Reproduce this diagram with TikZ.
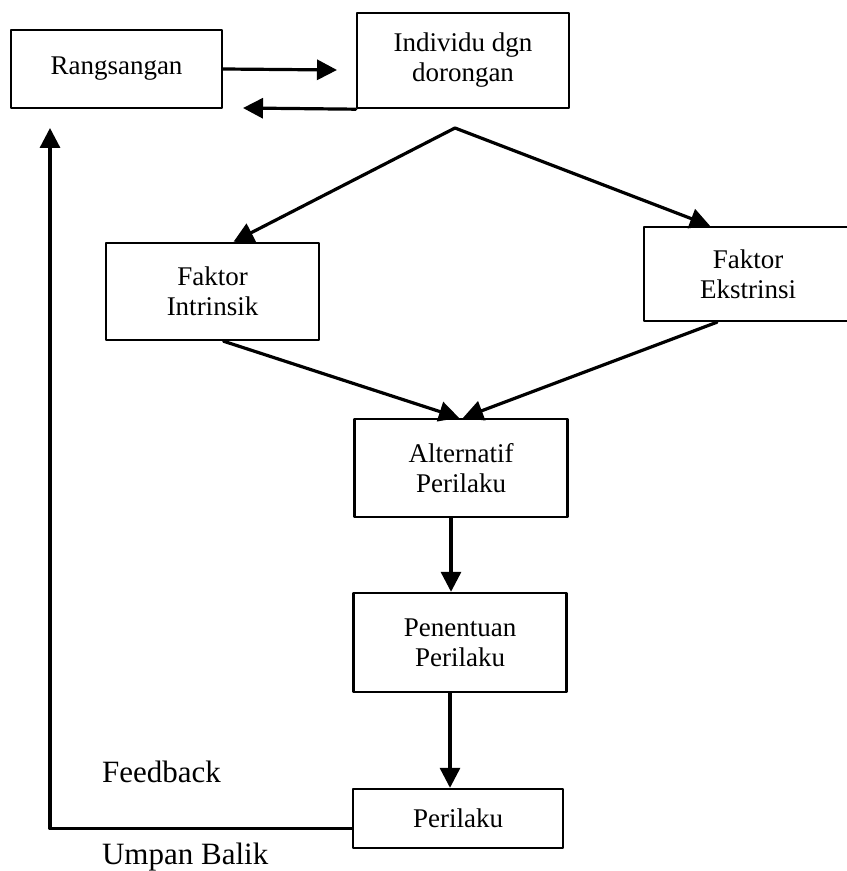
\documentclass[tikz,border=0pt]{standalone}
\usepackage{fontspec}
\setmainfont{Liberation Serif}
\usetikzlibrary{arrows.meta}
\begin{document}
\begin{tikzpicture}[x=0.5pt, y=-0.5pt, line cap=round, line join=round,
  box/.style={draw, line width=1.2pt, align=center, inner sep=0pt,
    font=\fontsize{13.5}{15}\selectfont},
  arr/.style={line width=1.6pt, -{Triangle[length=10pt,width=10pt]}},
  lbl/.style={anchor=west, font=\fontsize{15.5}{18}\selectfont}]
  \useasboundingbox (0,0) rectangle (846,871);
  \coordinate (top) at (455,128);
  \coordinate (ra) at (337,70);
  \coordinate (rb) at (243,108);
  \coordinate (fb) at (50,128);
  \node[box, minimum width=105.5pt, minimum height=39pt] (R) at (116.5,69) {Rangsangan};
  \node[box, minimum width=106pt, minimum height=47.5pt] (I) at (463,60.5) {Individu dgn\\dorongan};
  \node[box, minimum width=106.5pt, minimum height=48.5pt] (FI) at (212.5,291.5) {Faktor\\Intrinsik};
  \node[box, minimum width=104pt, minimum height=47pt] (FE) at (748,274) {Faktor\\Ekstrinsi};
  \node[box, minimum width=106.5pt, minimum height=49pt] (A) at (461,468) {Alternatif\\Perilaku};
  \node[box, minimum width=106.5pt, minimum height=49.5pt] (P) at (460,642.5) {Penentuan\\Perilaku};
  \node[box, minimum width=105pt, minimum height=29.5pt] (B) at (458,818.5) {Perilaku};
  \node[lbl] (fbt) at (95,772) {Feedback};
  \node[lbl] (ub) at (95,857) {Umpan Balik};
  \draw[arr] (R.east) -- (ra);
  \draw[arr] (I.south west) -- (rb);
  \draw[arr] (top) -- ([xshift=10.5pt]FI.north);
  \draw[arr] (top) -- ([xshift=-19pt]FE.north);
  \draw[arr] ([xshift=5.5pt]FI.south) -- ([xshift=-1pt]A.north);
  \draw[arr] ([xshift=-15.5pt]FE.south) -- ([xshift=1pt]A.north);
  \draw[arr] ([xshift=-5pt]A.south) -- ([xshift=-4.5pt]P.north);
  \draw[arr] ([xshift=-5pt]P.south) -- ([xshift=-4pt]B.north);
  \draw[arr] ([yshift=-5pt]B.west) -| (fb);
\end{tikzpicture}
\end{document}
